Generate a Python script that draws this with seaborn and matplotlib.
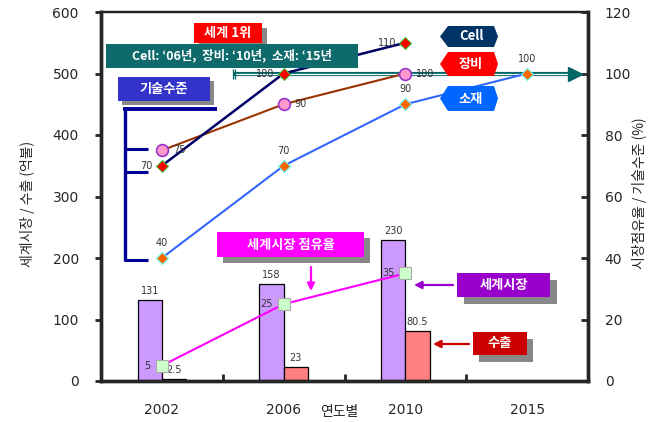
import matplotlib
matplotlib.use("Agg")
import matplotlib.pyplot as plt
import seaborn as sns
import pandas as pd
from matplotlib.patches import Rectangle, Polygon
from matplotlib.lines import Line2D

# ---------------- data ----------------
years = ["2002", "2006", "2010", "2015"]
market_years = ["2002", "2006", "2010"]
world_market = [131, 158, 230]        # 세계시장 (억불)
exports = [2.5, 23, 80.5]             # 수출 (억불)
share_years = ["2002", "2006", "2010"]
market_share = [5, 25, 35]            # 세계시장 점유율 (%)
cell_years = ["2002", "2006", "2010"]
cell_level = [70, 100, 110]           # Cell 기술수준
equip_years = ["2002", "2006", "2010"]
equip_level = [75, 90, 100]           # 장비 기술수준
mat_years = ["2002", "2006", "2010", "2015"]
mat_level = [40, 70, 90, 100]         # 소재 기술수준
left_ticks = [0, 100, 200, 300, 400, 500, 600]
right_ticks = [0, 20, 40, 60, 80, 100, 120]

sns.set_style("white")
plt.rcParams["font.family"] = ["Noto Sans CJK KR", "DejaVu Sans"]

W, H = 664, 422
fig = plt.figure(figsize=(W / 100, H / 100), dpi=100)
ax = fig.add_axes([101 / W, (H - 381) / H, (588 - 101) / W, (381 - 12) / H])

pos = {y: i for i, y in enumerate(years)}

df = pd.DataFrame({
    "pos": [pos[y] for y in market_years] * 2,
    "value": world_market + exports,
    "series": ["세계시장"] * len(market_years) + ["수출"] * len(market_years),
})
sns.barplot(data=df, x="pos", y="value", hue="series", hue_order=["세계시장", "수출"],
            palette=["#CC99FF", "#FF8080"], saturation=1, width=0.4, native_scale=True,
            edgecolor="black", linewidth=0.9, errorbar=None, legend=False, ax=ax)

ax.set_xlim(-0.5, 3.5)
ax.set_ylim(0, 600)
ax.set_yticks(left_ticks)
ax.set_yticklabels([str(t) for t in left_ticks], fontsize=10, family="DejaVu Sans")
ax.set_xticks(range(len(years)))
ax.set_xticklabels(years, fontsize=10, family="DejaVu Sans")
ax.set_xticks([0.5, 1.5, 2.5], minor=True)
ax.tick_params(axis="x", which="major", length=0, pad=16)
ax.tick_params(axis="x", which="minor", length=5, width=2, direction="in", bottom=True)
ax.tick_params(axis="y", length=4, width=2, direction="out", pad=12, left=True)
ax.set_xlabel("연도별", fontsize=10)
ax.xaxis.set_label_coords(0.49, -0.065)
ax.set_ylabel("세계시장 / 수출 (억불)", fontsize=10)
ax.yaxis.set_label_coords(-0.135, 0.48)
for s in ax.spines.values():
    s.set_linewidth(2.4)
    s.set_color("black")
ax.spines["top"].set_linewidth(1.6)

# bar value labels
for y, v in zip(market_years, world_market):
    ax.annotate(f"{v:g}", (pos[y] - 0.1, v), xytext=(0, 9), textcoords="offset pixels",
                ha="center", va="center", fontsize=7, color="#333333", family="DejaVu Sans")
for y, v in zip(market_years, exports):
    ax.annotate(f"{v:g}", (pos[y] + 0.1, v), xytext=(0, 9), textcoords="offset pixels",
                ha="center", va="center", fontsize=7, color="#333333", family="DejaVu Sans")

# ---------------- right axis ----------------
ax2 = ax.twinx()
ax2.set_ylim(0, 120)
ax2.set_yticks(right_ticks)
ax2.set_yticklabels([str(t) for t in right_ticks], fontsize=10, family="DejaVu Sans")
ax2.tick_params(axis="y", length=5, width=2, direction="in", pad=12, right=True)
ax2.set_ylabel("시장점유율 / 기술수준 (%)", fontsize=10, rotation=90)
ax2.yaxis.set_label_coords(1.09, 0.51)
for s in ax2.spines.values():
    s.set_linewidth(2.4)
ax2.spines["top"].set_linewidth(1.6)

# target line at 100
ax2.plot([0.582, 3.35], [100, 100], color="#006666", lw=3.0, solid_capstyle="butt", zorder=1)
ax2.plot([0.60, 3.35], [100, 100], color="white", lw=0.9, solid_capstyle="butt", zorder=1.1)
ax2.plot([3.39], [100], marker=">", ms=10, color="#006666", mec="#006666", zorder=1.2)
ax2.plot([0.582, 0.60], [100, 100], ls="none", marker="|", ms=7, mew=0.9, color="#006666", zorder=1.2)

sns.lineplot(x=[pos[y] for y in share_years], y=market_share, ax=ax2, color="#FF00FF", lw=1.5,
             marker="s", markersize=9, markerfacecolor="#CCFFCC", markeredgecolor="#AAAAAA",
             markeredgewidth=0.8, zorder=3)
sns.lineplot(x=[pos[y] for y in equip_years], y=equip_level, ax=ax2, color="#993300", lw=1.5,
             marker="o", markersize=8.5, markerfacecolor="#FF99CC", markeredgecolor="#9933CC",
             markeredgewidth=1.2, zorder=3)
sns.lineplot(x=[pos[y] for y in cell_years], y=cell_level, ax=ax2, color="#000066", lw=1.8,
             marker="D", markersize=6, markerfacecolor="#FF0000", markeredgecolor="#33CC33",
             markeredgewidth=0.7, zorder=4)
sns.lineplot(x=[pos[y] for y in mat_years], y=mat_level, ax=ax2, color="#3366FF", lw=1.5,
             marker="D", markersize=6, markerfacecolor="#FF6600", markeredgecolor="#66FFFF",
             markeredgewidth=0.8, zorder=3)
ax2.set_xlim(-0.5, 3.5)


def lab(x, y, t, dx, dy, ha):
    ax2.annotate(t, (x, y), xytext=(dx, dy), textcoords="offset pixels", ha=ha, va="center",
                 fontsize=7, color="#333333", family="DejaVu Sans", zorder=5)


for y, v in zip(cell_years, cell_level):
    lab(pos[y], v, f"{v}", -9, 0, "right")
for y, v in zip(equip_years, equip_level):
    lab(pos[y], v, f"{v}", 11, 0, "left")
for y, v in zip(mat_years, mat_level):
    lab(pos[y], v, f"{v}", 0, 15, "center")
for y, v in zip(share_years, market_share):
    lab(pos[y], v, f"{v}", -11, 0, "right")

# ---------------- annotations (figure pixels) ----------------
def fx(x):
    return x / W


def fy(y):
    return 1 - y / H


def box(x0, y0, x1, y1, fc, text, shadow=None, fs=9.5):
    if shadow:
        dx, dy = shadow
        fig.add_artist(Rectangle((fx(x0 + dx), fy(y1 + dy)), (x1 - x0) / W, (y1 - y0) / H,
                                 transform=fig.transFigure, fc="#888888", ec="none", zorder=10))
    fig.add_artist(Rectangle((fx(x0), fy(y1)), (x1 - x0) / W, (y1 - y0) / H,
                             transform=fig.transFigure, fc=fc, ec="none", zorder=11))
    fig.text(fx((x0 + x1) / 2), fy((y0 + y1) / 2), text, ha="center", va="center",
             color="white", fontsize=fs, fontweight="bold", zorder=12)


def tag(x0, y0, x1, y1, fc, text, fs=9.5):
    ym = (y0 + y1) / 2
    pts = [(x0, ym), (x0 + 8, y0), (x1 - 4, y0), (x1, ym), (x1 - 4, y1), (x0 + 8, y1)]
    fig.add_artist(Polygon([(fx(a), fy(b)) for a, b in pts], closed=True,
                           transform=fig.transFigure, fc=fc, ec="none", zorder=11))
    fig.text(fx((x0 + x1) / 2 + 2), fy(ym), text, ha="center", va="center",
             color="white", fontsize=fs, fontweight="bold", zorder=12)


def arrow(xa, ya, xb, yb, color):
    ax.annotate("", xy=(xb, H - yb), xytext=(xa, H - ya), xycoords="figure pixels",
                textcoords="figure pixels",
                arrowprops=dict(arrowstyle="-|>", color=color, lw=1.6, mutation_scale=11,
                                shrinkA=0, shrinkB=0), zorder=12)


def seg(xs, ys, lw):
    fig.add_artist(Line2D([fx(v) for v in xs], [fy(v) for v in ys], color="#000099", lw=lw,
                          solid_capstyle="butt", transform=fig.transFigure, zorder=9))


box(194, 23, 262, 43, "#FF0000", "세계 1위", shadow=(5, 5))
box(106, 44, 358, 68, "#0F6B6B", "Cell: ‘06년,  장비: ‘10년,  소재: ‘15년", fs=9)
box(118, 77, 210, 101, "#3333CC", "기술수준", shadow=(4, 4))
box(217, 232, 364, 257, "#FF00FF", "세계시장 점유율", shadow=(6, 6))
box(457, 273, 550, 297, "#9900CC", "세계시장", shadow=(7, 7))
box(473, 332, 527, 355, "#CC0000", "수출", shadow=(6, 7))

tag(440, 26, 498, 47, "#003366", "Cell")
tag(440, 52, 498, 76, "#FF0000", "장비")
tag(440, 86, 498, 111, "#0066FF", "소재")

# bracket
seg([123, 217], [108.5, 108.5], 2.8)
seg([125, 125], [107, 261], 2.4)
seg([124, 148], [149, 149], 2.2)
seg([124, 148], [172, 172], 2.2)
seg([124, 148], [260, 260], 2.2)

arrow(311, 267, 311, 291, "#FF00FF")
arrow(453, 285, 414, 285, "#9900CC")
arrow(469, 344, 433, 344, "#CC0000")

fig.savefig("out.png", dpi=100)
